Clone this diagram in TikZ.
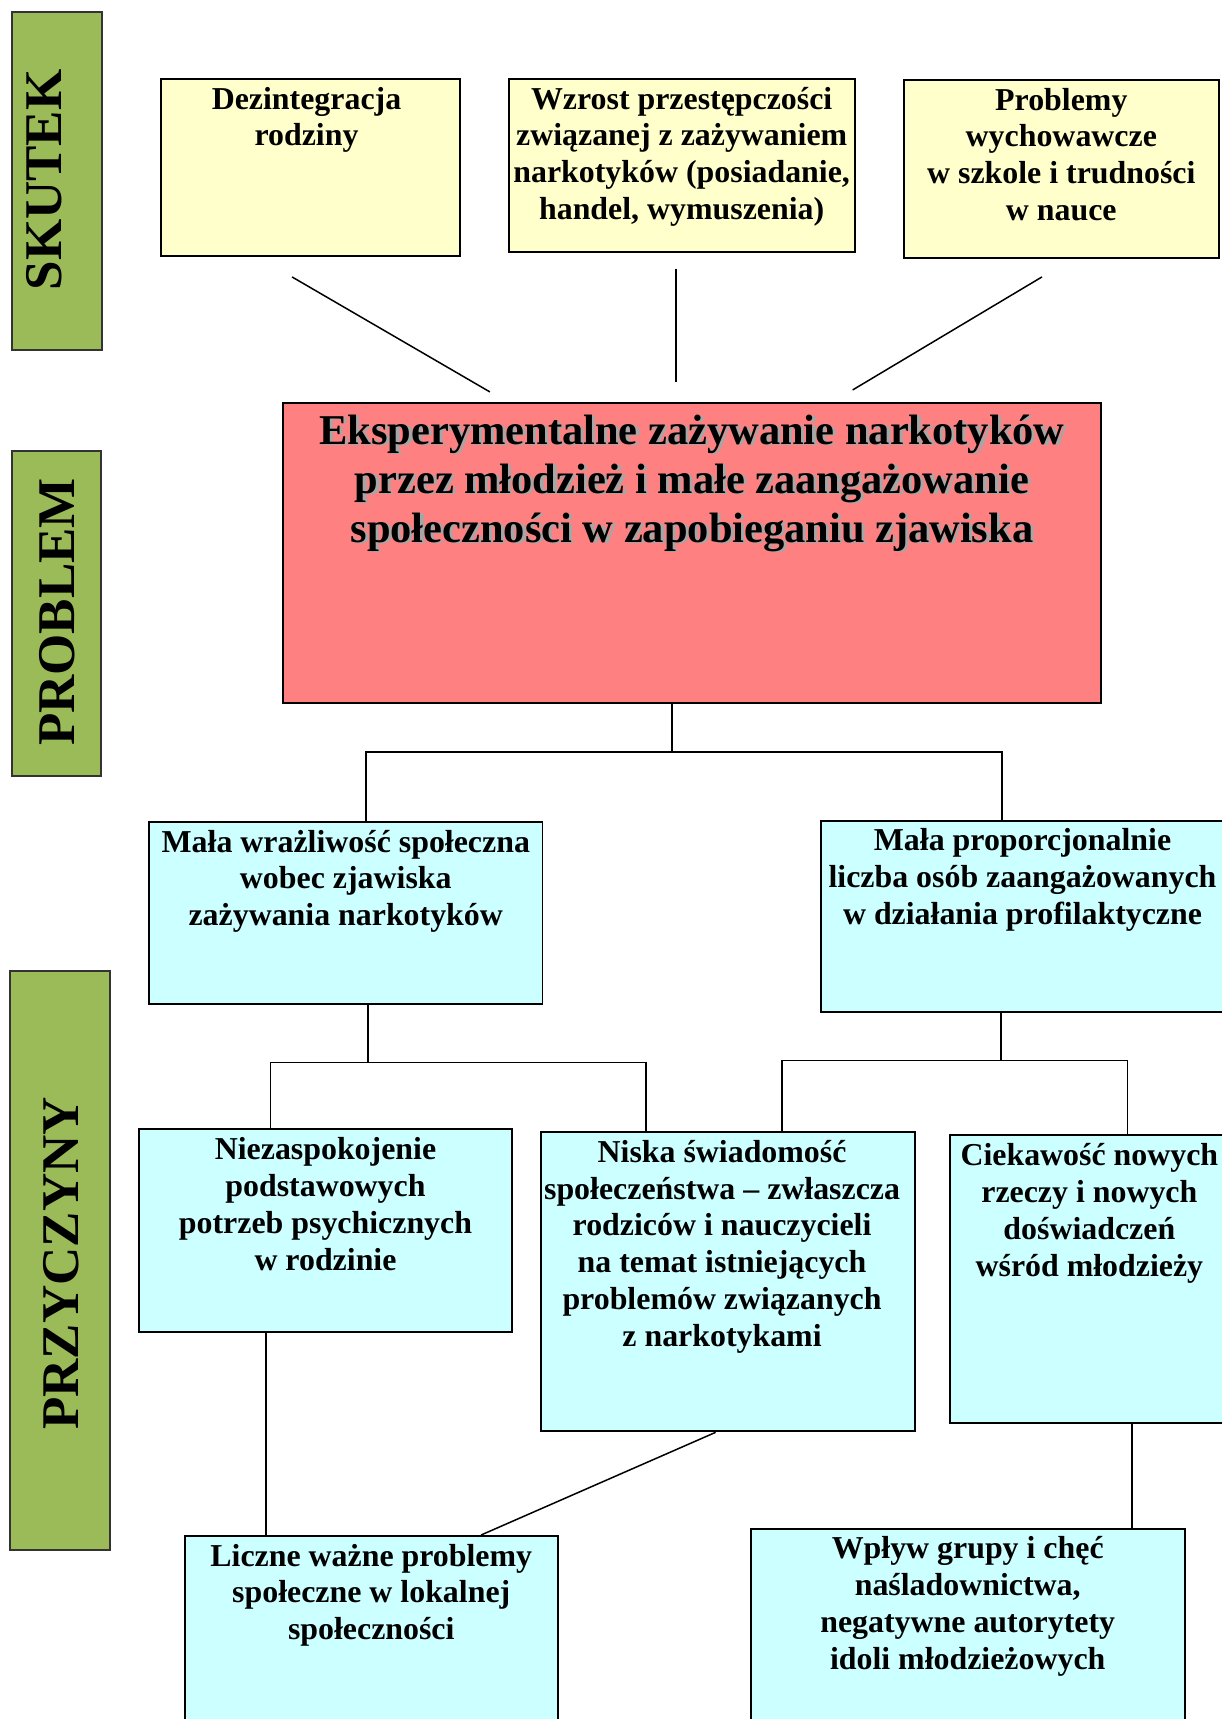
\documentclass[tikz,border=0pt]{standalone}
\usepackage{fontspec}
\setmainfont{Liberation Serif}
\usetikzlibrary{fit,calc}
\definecolor{lblgreen}{HTML}{9BBB59}
\definecolor{boxyellow}{HTML}{FFFFCC}
\definecolor{boxred}{HTML}{FF8080}
\definecolor{boxcyan}{HTML}{CCFFFF}
\definecolor{shadowgray}{HTML}{A6A6A6}
\newcommand{\firststrut}{\rule{0pt}{15.4pt}}
\newcommand{\bigstrut}{\rule{0pt}{20.9pt}}
\begin{document}
\begin{tikzpicture}[x=0.55pt,y=-0.55pt,
  box/.style={draw=black, line width=1pt, inner sep=0pt},
  ybox/.style={box, fill=boxyellow},
  rbox/.style={box, fill=boxred},
  cbox/.style={box, fill=boxcyan},
  gbox/.style={draw=black!80, line width=0.7pt, fill=lblgreen, inner sep=0pt},
  lbl/.style={rotate=90, inner sep=0pt, font=\bfseries\fontsize{26.6}{30}\selectfont},
  txt/.style={anchor=north, align=center, inner sep=0pt, font=\bfseries\fontsize{16}{18.5}\selectfont},
  bigtxt/.style={anchor=north, align=center, inner sep=0pt, font=\bfseries\fontsize{21.3}{24.6}\selectfont},
  conn/.style={draw=black, line width=0.75pt},
]
\useasboundingbox (0,0) rectangle (1115,1568.5);

% side labels
\node (gS) [gbox, fit={(11,11)(93,319.5)}] {};
\node (gSt) [lbl] at (40.1,164.2) {SKUTEK};
\node (gP) [gbox, fit={(11,411.6)(92.2,708.2)}] {};
\node (gPt) [lbl] at (52,558.4) {PROBLEM};
\node (gC) [gbox, fit={(9.1,886)(100.4,1414.3)}] {};
\node (gCt) [lbl] at (55.7,1152.8) {PRZYCZYNY};

% effects
\node (y1) [ybox, fit={(146.9,72.1)(419.7,233.6)}] {};
\node (y1t) [txt] at ([xshift=-2]y1.north) {\firststrut Dezintegracja\\rodziny};
\node (y2) [ybox, fit={(464,72)(780,230)}] {};
\node (y2t) [txt] at (y2.north) {\firststrut Wzrost przestępczości\\związanej z zażywaniem\\narkotyków (posiadanie,\\handel, wymuszenia)};
\node (y3) [ybox, fit={(824.8,73)(1112,235.4)}] {};
\node (y3t) [txt] at (y3.north) {\firststrut Problemy\\wychowawcze\\w szkole i trudności\\w nauce};

% problem
\node (red) [rbox, fit={(258.2,367.7)(1004.6,641.4)}] {};
\node (redsh) [bigtxt, text=shadowgray] at ([xshift=1.6,yshift=-1.6*0.55]red.north) {\bigstrut Eksperymentalne zażywanie narkotyków\\przez młodzież i małe zaangażowanie\\społeczności w zapobieganiu zjawiska};
\node (redt) [bigtxt] at (red.north) {\bigstrut Eksperymentalne zażywanie narkotyków\\przez młodzież i małe zaangażowanie\\społeczności w zapobieganiu zjawiska};

% causes
\node (c1) [cbox, fit={(136,750)(495,916)}] {};
\node (c1t) [txt] at (c1.north) {\firststrut Mała wrażliwość społeczna\\wobec zjawiska\\zażywania narkotyków};
\node (c2) [cbox, fit={(749,749)(1117,923.5)}] {};
\node (c2t) [txt] at (c2.north) {\firststrut Mała proporcjonalnie\\liczba osób zaangażowanych\\w działania profilaktyczne};
\node (niez) [cbox, fit={(127,1030.5)(467,1215)}] {};
\node (niezt) [txt] at (niez.north) {\firststrut Niezaspokojenie\\podstawowych\\potrzeb psychicznych\\w rodzinie};
\node (niska) [cbox, fit={(493.6,1033)(835,1306)}] {};
\node (niskat) [txt] at ([xshift=-3]niska.north) {\firststrut Niska świadomość\\społeczeństwa – zwłaszcza\\rodziców i nauczycieli\\na temat istniejących\\problemów związanych\\z narkotykami};
\node (ciek) [cbox, fit={(867,1036)(1121,1298.5)}] {};
\node (ciekt) [txt] at (ciek.north) {\firststrut Ciekawość nowych\\rzeczy i nowych\\doświadczeń\\wśród młodzieży};
\node (licz) [cbox, fit={(168.5,1401.5)(509,1580)}] {};
\node (liczt) [txt] at (licz.north) {\firststrut Liczne ważne problemy\\społeczne w lokalnej\\społeczności};
\node (wplyw) [cbox, fit={(685,1395)(1081,1580)}] {};
\node (wplywt) [txt] at (wplyw.north) {\firststrut Wpływ grupy i chęć\\naśladownictwa,\\negatywne autorytety\\idoli młodzieżowych};

% free connector ends (effects)
\coordinate (a1) at (266.5,252.7);
\coordinate (a2) at (447,357.6);
\coordinate (b1) at (617,245);
\coordinate (b2) at (617,349);
\coordinate (d1) at (950.7,252.7);
\coordinate (d2) at (778,355.8);
\draw[conn] (a1) -- (a2);
\draw[conn] (b1) -- (b2);
\draw[conn] (d1) -- (d2);

% tree 1
\coordinate (j1) at (613.2,686.2);
\coordinate (j1L) at (334,686.2);
\coordinate (j1R) at (914.3,686.2);
\draw[conn] (red.south -| j1) -- (j1);
\draw[conn] (c1.north -| j1L) -- (j1L) -- (j1R) -- (c2.north -| j1R);

% tree 2
\coordinate (j2) at (336,969.5);
\coordinate (j2L) at (247,969.5);
\coordinate (j2R) at (589.5,969.5);
\draw[conn] (c1.south -| j2) -- (j2);
\draw[conn] (niez.north -| j2L) -- (j2L) -- (j2R) -- (niska.north -| j2R);

% tree 3
\coordinate (j3) at (913.5,967.5);
\coordinate (j3L) at (713.7,967.5);
\coordinate (j3R) at (1029,967.5);
\draw[conn] (c2.south -| j3) -- (j3);
\draw[conn] (niska.north -| j3L) -- (j3L) -- (j3R) -- (ciek.north -| j3R);

% bottom
\coordinate (k1) at (242.7,1300);
\draw[conn] (niez.south -| k1) -- (licz.north -| k1);
\coordinate (k2a) at (653,1306);
\coordinate (k2b) at (439,1401.5);
\draw[conn] (niska.south -| k2a) -- (licz.north -| k2b);
\coordinate (k3) at (1033,1350);
\draw[conn] (ciek.south -| k3) -- (wplyw.north -| k3);
\end{tikzpicture}
\end{document}
